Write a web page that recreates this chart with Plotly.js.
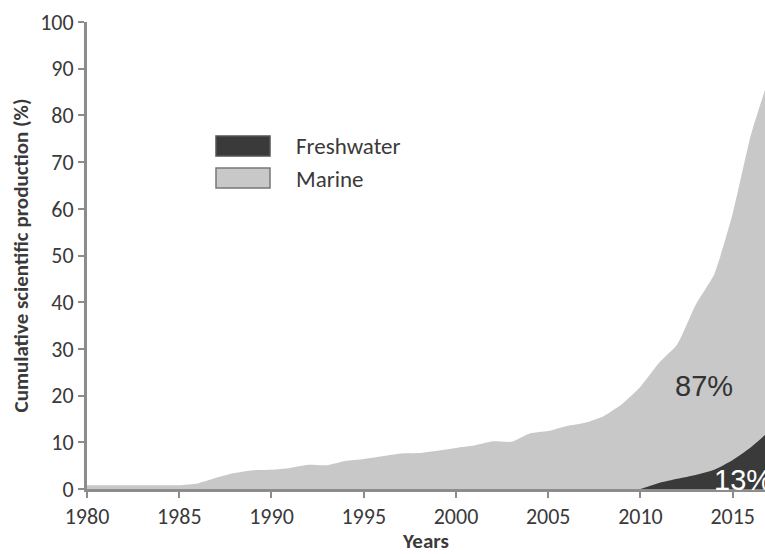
<!DOCTYPE html>
<html>
<head>
<meta charset="utf-8">
<script src="https://cdn.plot.ly/plotly-3.0.1.min.js"></script>
<style>html,body{margin:0;padding:0;background:#fff;}#chart{width:765px;height:554px;}</style>
</head>
<body>
<div id="chart"></div>
<script>
var marineYears = [1980,1981,1982,1983,1984,1985,1986,1987,1988,1989,1990,1991,1992,1993,1994,1995,1996,1997,1998,1999,2000,2001,2002,2003,2004,2005,2006,2007,2008,2009,2010,2011,2012,2013,2014,2015,2016,2017];
var marineValues = [0.8,0.8,0.8,0.8,0.8,0.8,1.2,2.4,3.4,4.0,4.1,4.5,5.2,5.1,6.0,6.4,7.0,7.6,7.7,8.2,8.8,9.3,10.2,10.1,11.9,12.4,13.5,14.2,15.6,18.2,21.9,27.0,31.0,39.5,46.0,59.0,76.0,88.5];
var freshYears = [2010,2011,2012,2013,2014,2015,2016,2017];
var freshValues = [0,1.3,2.2,3.0,4.1,6.2,9.0,12.4];
var xTicks = [1980,1985,1990,1995,2000,2005,2010,2015];
var yTicks = [0,10,20,30,40,50,60,70,80,90,100];
var seriesNames = ["Freshwater","Marine"];
var shareLabels = ["13%","87%"];

var FONT = "Carlito, Lato, 'Liberation Sans', sans-serif";
var MARINE = "#c8c8c8", FRESH = "#3a3a3a", AXIS = "#8c8c8c", TXT = "#3a3a3a";

var traces = [
  {x: marineYears, y: marineValues, type: "scatter", mode: "lines", fill: "tozeroy",
   fillcolor: MARINE, line: {color: MARINE, width: 0, shape: "spline", smoothing: 0.5}, name: seriesNames[1], showlegend: false, hoverinfo: "skip"},
  {x: freshYears, y: freshValues, type: "scatter", mode: "lines", fill: "tozeroy",
   fillcolor: FRESH, line: {color: FRESH, width: 0, shape: "spline", smoothing: 0.5}, name: seriesNames[0], showlegend: false, hoverinfo: "skip"}
];

var layout = {
  width: 765, height: 554,
  margin: {l: 87, r: 0, t: 22, b: 65},
  paper_bgcolor: "#fff", plot_bgcolor: "#fff",
  showlegend: false,
  font: {family: FONT, color: TXT, size: 22},
  xaxis: {
    range: [1980, 2016.75], tickvals: xTicks, ticktext: xTicks.map(String),
    showgrid: false, zeroline: false, showline: true, linecolor: AXIS, linewidth: 3,
    ticks: "outside", ticklen: 6, tickwidth: 2, tickcolor: AXIS,
    tickfont: {family: FONT, size: 22, color: TXT},
    title: {text: "<b>Years</b>", font: {family: FONT, size: 21, color: TXT}, standoff: 6}
  },
  yaxis: {
    range: [0, 100], tickvals: yTicks, ticktext: yTicks.map(String),
    showgrid: false, zeroline: false, showline: true, linecolor: AXIS, linewidth: 3,
    ticks: "outside", ticklen: 6, tickwidth: 2, tickcolor: AXIS,
    tickfont: {family: FONT, size: 22, color: TXT},
    title: {text: "<b>Cumulative scientific production (%)</b>", font: {family: FONT, size: 21, color: TXT}, standoff: 6}
  },
  shapes: [
    {type: "rect", xref: "paper", yref: "paper", x0: 129/678, x1: 183/678, y0: 1 - (156-22)/467.3, y1: 1 - (136-22)/467.3,
     fillcolor: FRESH, line: {color: "#555", width: 1.5}},
    {type: "rect", xref: "paper", yref: "paper", x0: 129/678, x1: 183/678, y0: 1 - (188-22)/467.3, y1: 1 - (168-22)/467.3,
     fillcolor: MARINE, line: {color: "#777", width: 1.5}}
  ],
  annotations: [
    {xref: "paper", yref: "paper", x: 207/678, y: 1 - (146-22)/467.3, xanchor: "left", yanchor: "middle",
     text: seriesNames[0], showarrow: false, font: {family: FONT, size: 23, color: TXT}},
    {xref: "paper", yref: "paper", x: 207/678, y: 1 - (179-22)/467.3, xanchor: "left", yanchor: "middle",
     text: seriesNames[1], showarrow: false, font: {family: FONT, size: 23, color: TXT}},
    {x: 2013.45, y: 22.1, xanchor: "center", yanchor: "middle", text: shareLabels[1], showarrow: false,
     font: {family: "'Liberation Sans', Arial, sans-serif", size: 29, color: "#333"}},
    {x: 2013.9, y: 2.0, xanchor: "left", yanchor: "middle", text: shareLabels[0], showarrow: false,
     font: {family: "'Liberation Sans', Arial, sans-serif", size: 29, color: "#fff"}}
  ]
};

Plotly.newPlot("chart", traces, layout, {staticPlot: true, displayModeBar: false});
</script>
</body>
</html>
